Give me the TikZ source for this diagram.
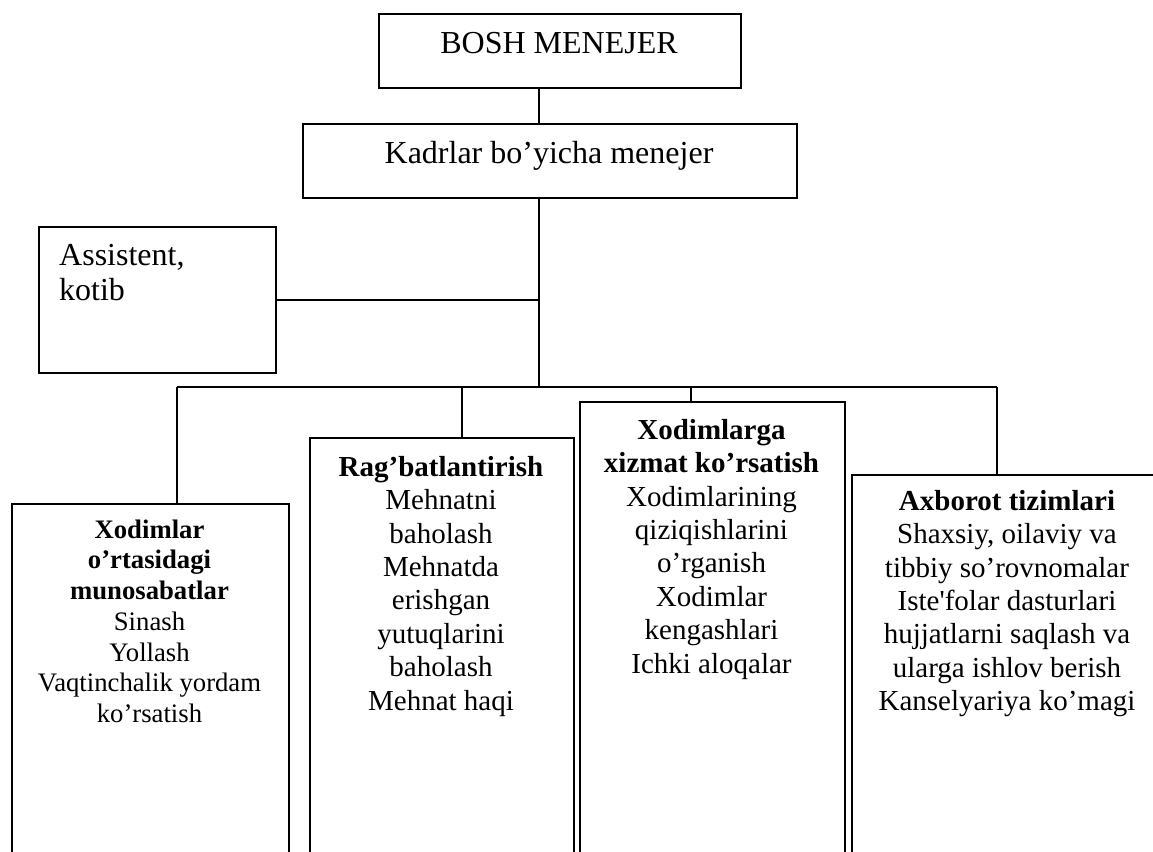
\documentclass[tikz,border=0pt]{standalone}
\usepackage{fontspec}
\setmainfont{Liberation Serif}
\newcommand\bigfnt{\fontsize{32}{35}\selectfont}
\newcommand\midfnt{\fontsize{29}{33.4}\selectfont}
\newcommand\smlfnt{\fontsize{26.7}{30.7}\selectfont}
\newcommand\topstrut{\rule{0pt}{1em}}
\begin{document}
\begin{tikzpicture}[x=1pt,y=-1pt,
  box/.style={draw, line width=1.7pt, rectangle, inner sep=0pt, anchor=north west},
  txt/.style={inner sep=0pt, anchor=base, align=center},
  mtxt/.style={inner sep=0pt, anchor=north, align=center},
  conn/.style={line width=1.7pt}]
\useasboundingbox (0,0) rectangle (1153,851);
\clip (0,0) rectangle (1153,851);
% boxes
\node[box, minimum width=362pt, minimum height=74pt] (boss) at (378,13) {};
\node[box, minimum width=494pt, minimum height=74pt] (kadr) at (302,123) {};
\node[box, minimum width=237pt, minimum height=146pt] (asst) at (38,226) {};
\node[box, minimum width=277pt, minimum height=500pt] (b1) at (11,503) {};
\node[box, minimum width=264pt, minimum height=500pt] (b2) at (309,437) {};
\node[box, minimum width=265pt, minimum height=500pt] (b3) at (579,401) {};
\node[box, minimum width=312pt, minimum height=500pt] (b4) at (851,474) {};
% texts (multi-line nodes: top of first line = baseline - 1em)
\node[txt, font=\bigfnt] (bossT) at (559,53) {BOSH MENEJER};
\node[txt, font=\bigfnt] (kadrT) at (549,163) {Kadrlar bo’yicha menejer};
\node[inner sep=0pt, anchor=north west, align=left, font=\bigfnt] (asstT) at (59,233) {\topstrut Assistent,\\kotib};
\node[mtxt, font=\smlfnt] (b1T) at (149.5,511.3) {\topstrut\textbf{Xodimlar}\\\textbf{o’rtasidagi}\\\textbf{munosabatlar}\\Sinash\\Yollash\\Vaqtinchalik yordam\\ko’rsatish};
\node[mtxt, font=\midfnt] (b2T) at (441,447) {\topstrut\textbf{Rag’batlantirish}\\Mehnatni\\baholash\\Mehnatda\\erishgan\\yutuqlarini\\baholash\\Mehnat haqi};
\node[mtxt, font=\midfnt] (b3T) at (711.5,410) {\topstrut\textbf{Xodimlarga}\\\textbf{xizmat ko’rsatish}\\Xodimlarining\\qiziqishlarini\\o’rganish\\Xodimlar\\kengashlari\\Ichki aloqalar};
\node[mtxt, font=\midfnt] (b4T) at (1007,481) {\topstrut\textbf{Axborot tizimlari}\\Shaxsiy, oilaviy va\\tibbiy so’rovnomalar\\Iste\textquotesingle folar dasturlari\\hujjatlarni saqlash va\\ularga ishlov berish\\Kanselyariya ko’magi};
% connectors
\coordinate (trunk) at (539,387);
\coordinate (d1) at (177,387);
\coordinate (d2) at (462,387);
\coordinate (d3) at (691,387);
\coordinate (d4) at (997,387);
\draw[conn] (boss.south -| trunk) -- (kadr.north -| trunk);
\draw[conn] (kadr.south -| trunk) -- (trunk);
\draw[conn] (asst.east) -- (asst.east -| trunk);
\draw[conn] (d1) -- (d4);
\draw[conn] (d1) -- (d1 |- b1.north);
\draw[conn] (d2) -- (d2 |- b2.north);
\draw[conn] (d3) -- (d3 |- b3.north);
\draw[conn] (d4) -- (d4 |- b4.north);
\end{tikzpicture}
\end{document}
